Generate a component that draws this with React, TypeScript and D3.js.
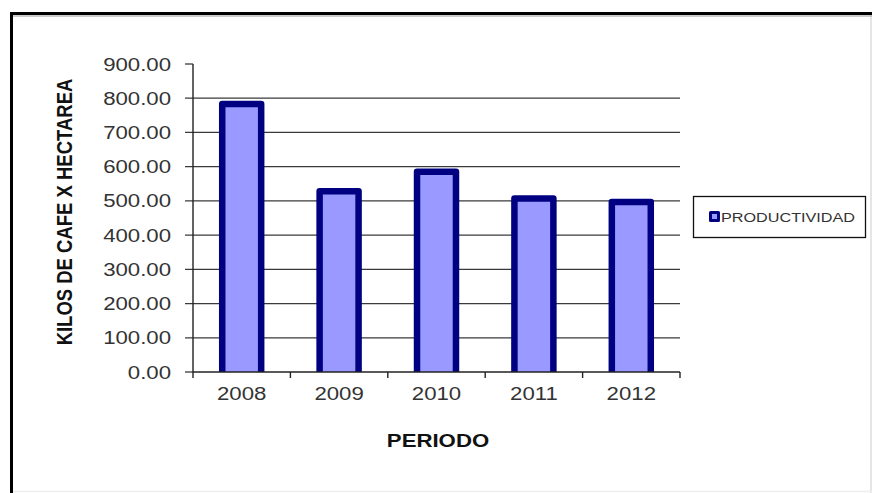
import * as d3 from "d3";

const years = ["2008", "2009", "2010", "2011", "2012"];
const productividad = [783, 528, 585, 507, 497];
const yTickValues = [0, 100, 200, 300, 400, 500, 600, 700, 800, 900];
const legendLabel = "PRODUCTIVIDAD";
const yTitle = "KILOS DE CAFE X HECTAREA";
const xTitle = "PERIODO";

const W = 872;
const H = 493;
const LEFT = 193;
const RIGHT = 680;
const TOP = 64;
const BOTTOM = 372;
const FONT = "Arial, 'Liberation Sans', Helvetica, sans-serif";
const SX = 1.2; // the picture is a bit wider than tall

const BAR_FILL = "#9999ff";
const BAR_EDGE = "#000080";

const App = () => {
  const x = d3
    .scaleBand<string>()
    .domain(years)
    .range([LEFT, RIGHT])
    .paddingInner(0.6)
    .paddingOuter(0.3);
  const y = d3.scaleLinear().domain([0, 900]).range([BOTTOM, TOP]);
  const fmt = d3.format(".2f");
  const step = x.step();
  const boundaries = d3.range(years.length + 1).map((i) => LEFT + i * step);

  return (
    <svg
      width={W}
      height={H}
      style={{ position: "absolute", left: 0, top: 0, background: "#fff" }}
      fontFamily={FONT}
    >
      <defs>
        <clipPath id="plot-clip">
          <rect x={0} y={0} width={W} height={BOTTOM} />
        </clipPath>
      </defs>

      {/* outer frame */}
      <line x1={W - 1} x2={W - 1} y1={15} y2={H} stroke="#ddd" strokeWidth={1.5} />
      <line x1={12} x2={W} y1={H - 1.5} y2={H - 1.5} stroke="#eee" strokeWidth={1.5} />
      <line x1={13} x2={W} y1={16} y2={16} stroke="#999" strokeWidth={1} />
      <rect x={11.5} y={13.5} width={W + 20} height={H + 20} fill="none" stroke="#000" strokeWidth={3} />

      {/* gridlines */}
      <g stroke="#3a3a3a" strokeWidth={1.3}>
        {yTickValues
          .filter((v) => v > 0 && v < 900)
          .map((v) => (
            <line key={v} x1={LEFT - 8} x2={RIGHT} y1={y(v)} y2={y(v)} />
          ))}
        {[0, 900].map((v) => (
          <line key={v} x1={LEFT - 8} x2={LEFT} y1={y(v)} y2={y(v)} />
        ))}
      </g>

      {/* bars */}
      <g clipPath="url(#plot-clip)">
        {years.map((yr, i) => (
          <rect
            key={yr}
            x={x(yr)}
            y={y(productividad[i])}
            width={x.bandwidth()}
            height={y(0) - y(productividad[i]) + 6}
            fill={BAR_FILL}
            stroke={BAR_EDGE}
            strokeWidth={6.5}
            strokeLinejoin="round"
          />
        ))}
      </g>

      {/* axes */}
      <g stroke="#222" strokeWidth={1.4}>
        <line x1={LEFT} x2={LEFT} y1={TOP} y2={BOTTOM} />
        <line x1={LEFT} x2={RIGHT} y1={BOTTOM} y2={BOTTOM} />
        {boundaries.map((bx) => (
          <line key={bx} x1={bx} x2={bx} y1={BOTTOM} y2={BOTTOM + 6} />
        ))}
      </g>

      {/* y tick labels */}
      <g fill="#333" fontSize={18.5}>
        {yTickValues.map((v) => (
          <text
            key={v}
            transform={`translate(171,${y(v) + 6.5}) scale(${SX},1)`}
            textAnchor="end"
          >
            {fmt(v)}
          </text>
        ))}
      </g>

      {/* x tick labels */}
      <g fill="#333" fontSize={18.5}>
        {years.map((yr) => (
          <text
            key={yr}
            transform={`translate(${(x(yr) ?? 0) + x.bandwidth() / 2},400) scale(${SX},1)`}
            textAnchor="middle"
          >
            {yr}
          </text>
        ))}
      </g>

      {/* axis titles */}
      <text
        transform={`translate(438,447) scale(${SX},1)`}
        textAnchor="middle"
        fontWeight="bold"
        fontSize={18.5}
        fill="#111"
      >
        {xTitle}
      </text>
      <text
        transform={`translate(72,212) scale(${SX},1) rotate(-90)`}
        textAnchor="middle"
        fontWeight="bold"
        fontSize={18.5}
        fill="#111"
      >
        {yTitle}
      </text>

      {/* legend */}
      <rect x={693.5} y={196.5} width={172} height={41} fill="#fff" stroke="#111" strokeWidth={1.3} />
      <rect x={710.5} y={212.5} width={8} height={8} fill={BAR_FILL} stroke={BAR_EDGE} strokeWidth={3} strokeLinejoin="round" />
      <text
        transform={`translate(721,221.5) scale(${SX},1)`}
        fontSize={13.5}
        fill="#333"
      >
        {legendLabel}
      </text>
    </svg>
  );
};

export default App;
